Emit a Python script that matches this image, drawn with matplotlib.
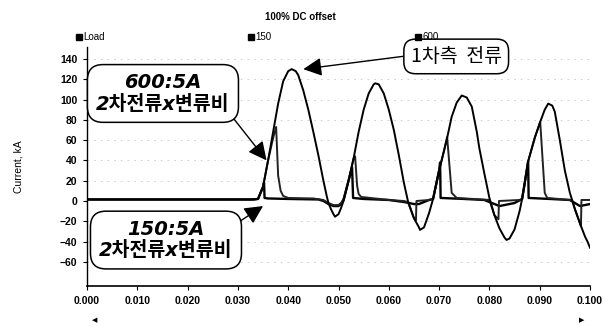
import numpy as np
import matplotlib
matplotlib.use("Agg")
import matplotlib.pyplot as plt
from matplotlib.lines import Line2D

plt.rcParams['font.family'] = ['Liberation Sans', 'DejaVu Sans']

# primary current ("Load"), (time s, kA)
load_t = [0.000, 0.033, 0.034, 0.035, 0.036, 0.037, 0.038, 0.039, 0.040, 0.0407,
          0.0415, 0.042, 0.043, 0.044, 0.045, 0.046, 0.047, 0.0477, 0.048, 0.0485,
          0.049, 0.0493, 0.050, 0.0505, 0.051, 0.052, 0.053, 0.054, 0.055, 0.056,
          0.057, 0.0573, 0.058, 0.059, 0.060, 0.061, 0.062, 0.063, 0.0638, 0.065,
          0.066, 0.0662, 0.067, 0.068, 0.0688, 0.070, 0.071, 0.0715, 0.0725, 0.0735,
          0.0745, 0.0755, 0.0765, 0.0775, 0.078, 0.079, 0.080, 0.081, 0.082, 0.083,
          0.0834, 0.084, 0.085, 0.086, 0.0865, 0.087, 0.0877, 0.089, 0.0901, 0.091,
          0.0917, 0.0925, 0.093, 0.094, 0.095, 0.096, 0.0965, 0.097, 0.098, 0.099,
          0.0995, 0.100]
load_i = [1.5, 1.5, 2, 14, 40, 68, 96, 118, 128, 130,
          128, 124, 109, 90, 68, 45, 20, 4, -2, -8,
          -13, -15.5, -13, -7, 0, 20, 42, 68, 90, 106,
          115, 116, 115, 106, 90, 70, 45, 18, 0, -17,
          -26, -28.5, -26, -12, 2, 30, 50, 60, 83, 97,
          104, 102, 93, 68, 52, 27, 3, -14, -27, -36,
          -38.4, -37, -28, -10, 2, 17, 39, 62, 78, 90,
          96, 94, 88, 60, 30, 8, 0, -8, -22, -35,
          -40, -46]

# 150:5 CT secondary x ratio
ct150_t = [0.000, 0.033, 0.034, 0.035, 0.0352, 0.0353, 0.036, 0.040, 0.046, 0.047,
           0.048, 0.049, 0.050, 0.0505, 0.051, 0.052, 0.0527, 0.0529, 0.055, 0.060,
           0.063, 0.064, 0.065, 0.066, 0.067, 0.068, 0.0688, 0.070, 0.0702, 0.0703,
           0.075, 0.079, 0.080, 0.081, 0.082, 0.083, 0.085, 0.0865, 0.087, 0.0877,
           0.0878, 0.092, 0.096, 0.097, 0.098, 0.099, 0.100]
ct150_i = [1.5, 1.5, 2, 14, 18, 3, 2.5, 2, 1.5, 0,
           -3, -5, -5, -3, 1, 20, 33, 3, 2, 1,
           -1, -2, -3, -3, -1, 1, 2, 30, 38, 3,
           2, 1, -1, -3, -5, -4, -2, 2, 17, 39,
           3, 2, 1, -2, -5, -4, -3]

# 600:5 CT secondary x ratio
ct600_t = [0.000, 0.033, 0.034, 0.035, 0.036, 0.037, 0.0376, 0.0380, 0.0385, 0.039,
           0.040, 0.045, 0.047, 0.048, 0.049, 0.050, 0.0505, 0.051, 0.052, 0.053,
           0.0533, 0.0537, 0.054, 0.0545, 0.060, 0.063, 0.0638, 0.065, 0.0654, 0.0655,
           0.068, 0.0688, 0.070, 0.071, 0.0716, 0.0725, 0.0735, 0.080, 0.081, 0.0818,
           0.0819, 0.086, 0.0865, 0.087, 0.0877, 0.089, 0.0901, 0.091, 0.0915, 0.096,
           0.0965, 0.097, 0.098, 0.0982, 0.0983, 0.100]
ct600_i = [1.5, 1.5, 2, 14, 40, 62, 73, 25, 10, 5,
           3, 2.5, 1, -2, -4, -4, -2, 2, 20, 42,
           44, 15, 7, 4, 1, 0, -1, -17, -19, 0,
           1, 2, 30, 50, 63, 8, 3, 1, -14, -18,
           0, 1, 2, 17, 39, 62, 78, 8, 3, 1,
           0, -8, -22, -25, 1, 1]

x_ticks = np.arange(0, 0.1001, 0.01)
y_ticks = np.arange(-60, 141, 20)

fig = plt.figure(figsize=(6.05, 3.26), dpi=100)
ax = fig.add_axes([87 / 605, 1 - 286 / 326, 503 / 605, 239 / 326])

for yv in y_ticks:
    if yv != 0:
        ax.axhline(yv, color="#c8c8c8", lw=0.6, ls=(0, (2, 6)), zorder=0)

ax.plot(load_t, load_i, color="black", lw=1.4, zorder=3)
ax.plot(ct150_t, ct150_i, color="black", lw=1.7, zorder=2)
ax.plot(ct600_t, ct600_i, color="#222222", lw=1.4, zorder=2)

ax.set_xlim(0, 0.1)
ax.set_ylim(-83.8, 151.8)
ax.set_xticks(x_ticks)
ax.set_xticklabels(["%.3f" % v for v in x_ticks])
ax.set_yticks(y_ticks)
ax.tick_params(labelsize=7.5, length=3, width=0.8, pad=4)
for lab in ax.get_xticklabels() + ax.get_yticklabels():
    lab.set_fontweight("bold")
for s in ["top", "right"]:
    ax.spines[s].set_visible(False)
ax.spines["left"].set_linewidth(1.0)
ax.spines["bottom"].set_linewidth(1.2)
ax.set_ylabel("Current, kA", fontsize=7.5, labelpad=26)

fig.text(300 / 605, 1 - 17 / 326, "100% DC offset", ha="center", va="center",
         fontsize=7, fontweight="bold")

handles = [Line2D([], [], ls="none", marker="s", color="black", markersize=4)
           for _ in range(3)]
fig.legend(handles, ["Load", "150", "600"], ncol=3, frameon=False,
           loc="center left", bbox_to_anchor=(70 / 605, 1 - 37 / 326),
           fontsize=7, handletextpad=0.1, columnspacing=14.6,
           handlelength=0.8, borderpad=0)

kor_it = ['DejaVu Sans', 'Noto Sans CJK KR']
kor = ['Noto Sans CJK KR', 'DejaVu Sans']
box = dict(boxstyle="round,pad=0.45,rounding_size=0.8", fc="white",
           ec="black", lw=1.1)
arrow = dict(arrowstyle="-|>,head_length=0.8,head_width=0.4", color="black",
             lw=1.0, shrinkA=0, shrinkB=0)

ax.annotate("600:5A\n2차전류x변류비", xy=(0.0357, 40), xytext=(0.0151, 106),
            ha="center", va="center", fontsize=14, fontweight="bold",
            fontstyle="italic", family=kor_it, linespacing=1.15, bbox=box,
            zorder=5, arrowprops=dict(arrow, relpos=(1, 0)))
ax.annotate("150:5A\n2차전류x변류비", xy=(0.0350, -5), xytext=(0.0157, -38.5),
            ha="center", va="center", fontsize=14, fontweight="bold",
            fontstyle="italic", family=kor_it, linespacing=1.15, bbox=box,
            zorder=5, arrowprops=dict(arrow, relpos=(1, 0.85)))
ax.annotate("1차측  전류", xy=(0.0430, 130), xytext=(0.0734, 142.5),
            ha="center", va="center", fontsize=14, family=kor,
            bbox=dict(box, boxstyle="round,pad=0.35,rounding_size=0.6"),
            zorder=5, arrowprops=dict(arrow, relpos=(0, 0.55)))

fig.text(95 / 605, 1 - 320 / 326, "\u25c0", ha="center", va="center",
         fontsize=5, family="DejaVu Sans")
fig.text(582 / 605, 1 - 320 / 326, "\u25b6", ha="center", va="center",
         fontsize=5, family="DejaVu Sans")

fig.savefig("out.png", dpi=100)
